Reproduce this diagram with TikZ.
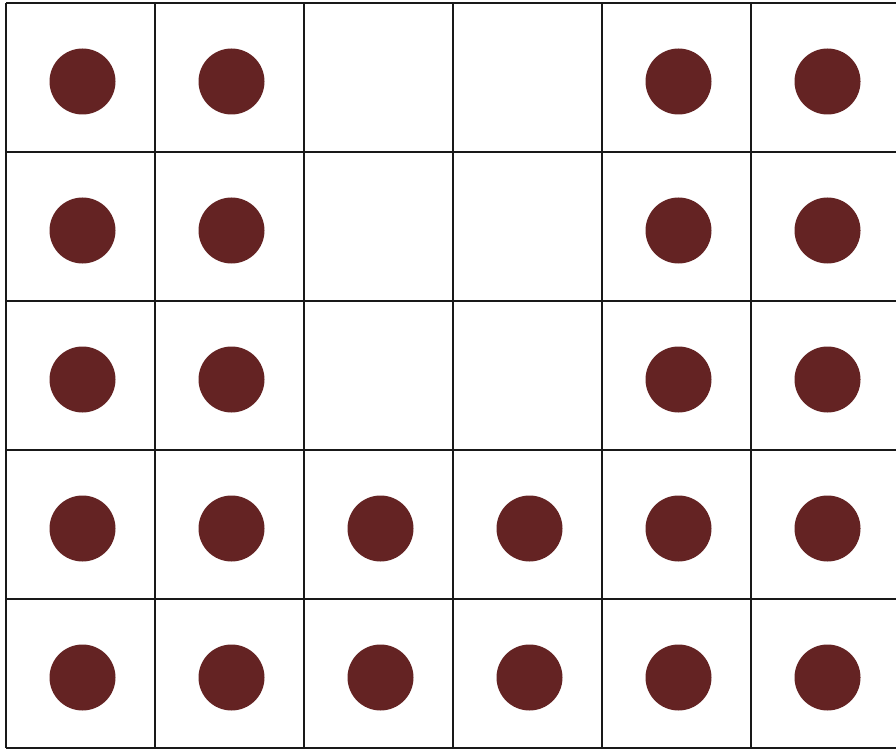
\documentclass[tikz,border=0pt]{standalone}
\definecolor{dotred}{RGB}{100,35,35}
\begin{document}
\begin{tikzpicture}[x=1pt,y=-1pt,
  gridline/.style={line width=1.6pt,black!90},
  dot/.style={circle,fill=dotred,minimum size=66pt,inner sep=0pt,draw=none}]
\useasboundingbox (0,0) rectangle (896,751);
\fill[white] (0,0) rectangle (896,751);
% grid
\foreach \y in {3,152,301,450,599,748} \draw[gridline] (6,\y) -- (896,\y);
\foreach \x in {6,155,304,453,602,751} \draw[gridline] (\x,3) -- (\x,748);
% dots
\foreach \r in {1,2,3} \foreach \c in {1,2,5,6}
  \node[dot] (d\r\c) at ({6+149*(\c-0.5)+2},{3+149*(\r-0.5)+4}) {};
\foreach \r in {4,5} \foreach \c in {1,...,6}
  \node[dot] (d\r\c) at ({6+149*(\c-0.5)+2},{3+149*(\r-0.5)+4}) {};
\end{tikzpicture}
\end{document}
